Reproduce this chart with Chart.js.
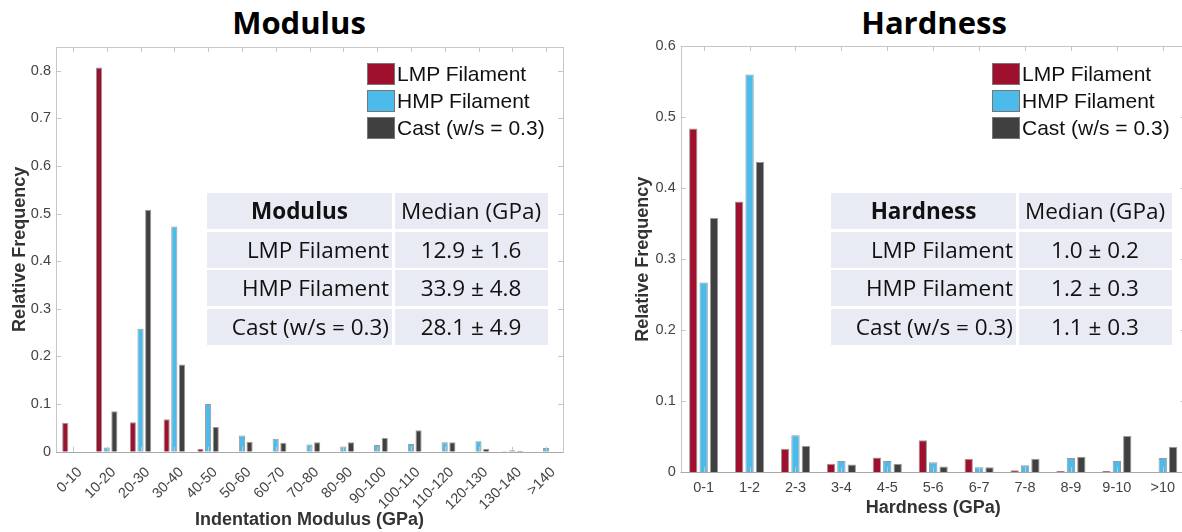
<!DOCTYPE html>
<html>
<head>
<meta charset="utf-8">
<script src="https://cdn.jsdelivr.net/npm/chart.js@4/dist/chart.umd.min.js"></script>
<style>
  body { margin: 0; width: 1182px; height: 532px; overflow: hidden; background: #fff; position: relative; font-family: "Liberation Sans", Arial, sans-serif; }
  .wrap { position: absolute; top: 0; height: 532px; }
  .title { position: absolute; top: 7px; width: 300px; margin-left: -150px; text-align: center; font: bold 31px/31px "Open Sans", sans-serif; color: #000; }
  .legend { position: absolute; top: 60px; }
  .legend .row { display: flex; align-items: center; height: 27px; font-size: 21px; color: #111; }
  .legend .sw { width: 26px; height: 20px; border: 1px solid #777; margin-right: 2px; }
  .table { position: absolute; top: 193px; display: grid; grid-template-columns: 185px 153px; grid-auto-rows: 36px; gap: 2.5px; font: 22.5px "Open Sans", sans-serif; color: #111; }
  .table div { background: #e9ebf4; line-height: 36px; white-space: nowrap; }
  .table .c1 { text-align: right; padding-right: 3px; }
  .table .c2 { text-align: center; }
  .table .hd { text-align: center; font-weight: bold; padding-right: 0; }
</style>
</head>
<body>
<div class="title" style="left:299px">Modulus</div>
<div class="title" style="left:934px">Hardness</div>
<div class="wrap" style="left:0;width:580px"><canvas id="modulusChart"></canvas></div>
<div class="wrap" style="left:600px;width:600px"><canvas id="hardnessChart"></canvas></div>
<div class="legend" id="modulusLegend" style="left:367px"></div>
<div class="legend" id="hardnessLegend" style="left:992px"></div>
<div class="table" id="modulusTable" style="left:207px"></div>
<div class="table" id="hardnessTable" style="left:831px"></div>

<script>
const seriesNames = ['LMP Filament', 'HMP Filament', 'Cast (w/s = 0.3)'];
const seriesColors = ['#9e102d', '#4dbbe9', '#404040'];

const modulusBins = ['0-10', '10-20', '20-30', '30-40', '40-50', '50-60', '60-70', '70-80',
  '80-90', '90-100', '100-110', '110-120', '120-130', '130-140', '>140'];
const modulusLMP = [0.061, 0.807, 0.062, 0.068, 0.006, 0, 0, 0, 0, 0, 0, 0, 0, 0.001, 0];
const modulusHMP = [0, 0.009, 0.258, 0.473, 0.100, 0.034, 0.027, 0.015, 0.011, 0.014, 0.016, 0.020, 0.022, 0.003, 0.008];
const modulusCast = [0, 0.085, 0.508, 0.183, 0.052, 0.021, 0.019, 0.020, 0.020, 0.029, 0.045, 0.020, 0.006, 0.002, 0];
const modulusMedians = ['12.9 ± 1.6', '33.9 ± 4.8', '28.1 ± 4.9'];

const hardnessBins = ['0-1', '1-2', '2-3', '3-4', '4-5', '5-6', '6-7', '7-8', '8-9', '9-10', '>10'];
const hardnessLMP = [0.484, 0.381, 0.033, 0.012, 0.021, 0.045, 0.019, 0.003, 0.002, 0.002, 0];
const hardnessHMP = [0.267, 0.560, 0.052, 0.016, 0.016, 0.014, 0.007, 0.010, 0.020, 0.016, 0.020];
const hardnessCast = [0.358, 0.437, 0.037, 0.011, 0.012, 0.008, 0.007, 0.019, 0.022, 0.051, 0.036];
const hardnessMedians = ['1.0 ± 0.2', '1.2 ± 0.3', '1.1 ± 0.3'];

// box round the plot with small inward ticks on all four sides
const boxPlugin = {
  id: 'box',
  afterDatasetsDraw(chart) {
    const { ctx, chartArea: a, scales: { x, y } } = chart;
    ctx.save();
    ctx.strokeStyle = '#c6c6c6';
    ctx.lineWidth = 1;
    ctx.strokeRect(Math.round(a.left) + 0.5, Math.round(a.top) + 0.5,
      Math.round(a.right - a.left), Math.round(a.bottom - a.top));
    ctx.beginPath();
    x.ticks.forEach((t, i) => {
      const px = Math.round(x.getPixelForTick(i)) + 0.5;
      ctx.moveTo(px, a.top); ctx.lineTo(px, a.top + 5);
      ctx.moveTo(px, a.bottom); ctx.lineTo(px, a.bottom - 5);
    });
    y.ticks.forEach((t, i) => {
      const py = Math.round(y.getPixelForTick(i)) + 0.5;
      ctx.moveTo(a.left, py); ctx.lineTo(a.left + 5, py);
      ctx.moveTo(a.right, py); ctx.lineTo(a.right - 5, py);
    });
    ctx.stroke();
    ctx.beginPath();
    ctx.strokeStyle = '#a9a9a9';
    ctx.moveTo(a.left, Math.round(a.bottom) + 0.5);
    ctx.lineTo(a.right, Math.round(a.bottom) + 0.5);
    ctx.stroke();
    ctx.restore();
  }
};

const tickFont = { size: 14.5, family: '"Liberation Sans", Arial, sans-serif' };
const titleFont = { size: 18, weight: 'bold', family: '"Liberation Sans", Arial, sans-serif' };

function makeChart(id, labels, series, opt) {
  return new Chart(document.getElementById(id), {
    type: 'bar',
    data: {
      labels: labels,
      datasets: series.map((d, i) => ({
        label: seriesNames[i],
        data: d,
        backgroundColor: seriesColors[i],
        borderColor: 'rgba(70,70,70,0.55)',
        borderWidth: 1,
        categoryPercentage: 0.68,
        barPercentage: 0.8
      }))
    },
    options: {
      responsive: true,
      maintainAspectRatio: false,
      animation: false,
      layout: { padding: opt.padding },
      plugins: { legend: { display: false }, tooltip: { enabled: false } },
      scales: {
        x: {
          grid: { display: false, drawTicks: false },
          border: { display: false },
          ticks: {
            color: '#444',
            font: tickFont,
            autoSkip: false,
            maxRotation: opt.rotate,
            minRotation: opt.rotate,
            padding: opt.xPad,
            labelOffset: opt.labelOffset
          },
          title: { display: true, text: opt.xTitle, color: '#333', padding: 0, font: titleFont },
          afterFit: s => { s.height = opt.xHeight; }
        },
        y: {
          min: 0,
          max: opt.yMax,
          grid: { display: false, drawTicks: false },
          border: { display: false },
          ticks: {
            stepSize: 0.1,
            includeBounds: false,
            color: '#444',
            padding: 5,
            font: tickFont
          },
          title: { display: true, text: 'Relative Frequency', color: '#333', padding: 0, font: titleFont },
          afterFit: s => { s.width = opt.yWidth; }
        }
      }
    },
    plugins: [boxPlugin]
  });
}

makeChart('modulusChart', modulusBins, [modulusLMP, modulusHMP, modulusCast], {
  yMax: 0.85, rotate: 45, xPad: 12, labelOffset: 7, xTitle: 'Indentation Modulus (GPa)',
  padding: { left: 9.2, top: 47, right: 17, bottom: 1.2 }, yWidth: 46.8, xHeight: 79.1
});

makeChart('hardnessChart', hardnessBins, [hardnessLMP, hardnessHMP, hardnessCast], {
  yMax: 0.6, rotate: 0, xPad: 7, labelOffset: 0, xTitle: 'Hardness (GPa)',
  padding: { left: 32.2, top: 46, right: 14.3, bottom: 13.2 }, yWidth: 48.5, xHeight: 46.5
});

function fillLegend(id) {
  const el = document.getElementById(id);
  seriesNames.forEach((n, i) => {
    const row = document.createElement('div');
    row.className = 'row';
    row.innerHTML = '<span class="sw" style="background:' + seriesColors[i] + '"></span><span>' + n + '</span>';
    el.appendChild(row);
  });
}

function fillTable(id, head, medians) {
  const el = document.getElementById(id);
  let html = '<div class="c1 hd">' + head + '</div><div class="c2">Median (GPa)</div>';
  seriesNames.forEach((n, i) => {
    html += '<div class="c1">' + n + '</div><div class="c2">' + medians[i] + '</div>';
  });
  el.innerHTML = html;
}

fillLegend('modulusLegend');
fillLegend('hardnessLegend');
fillTable('modulusTable', 'Modulus', modulusMedians);
fillTable('hardnessTable', 'Hardness', hardnessMedians);
</script>
</body>
</html>
